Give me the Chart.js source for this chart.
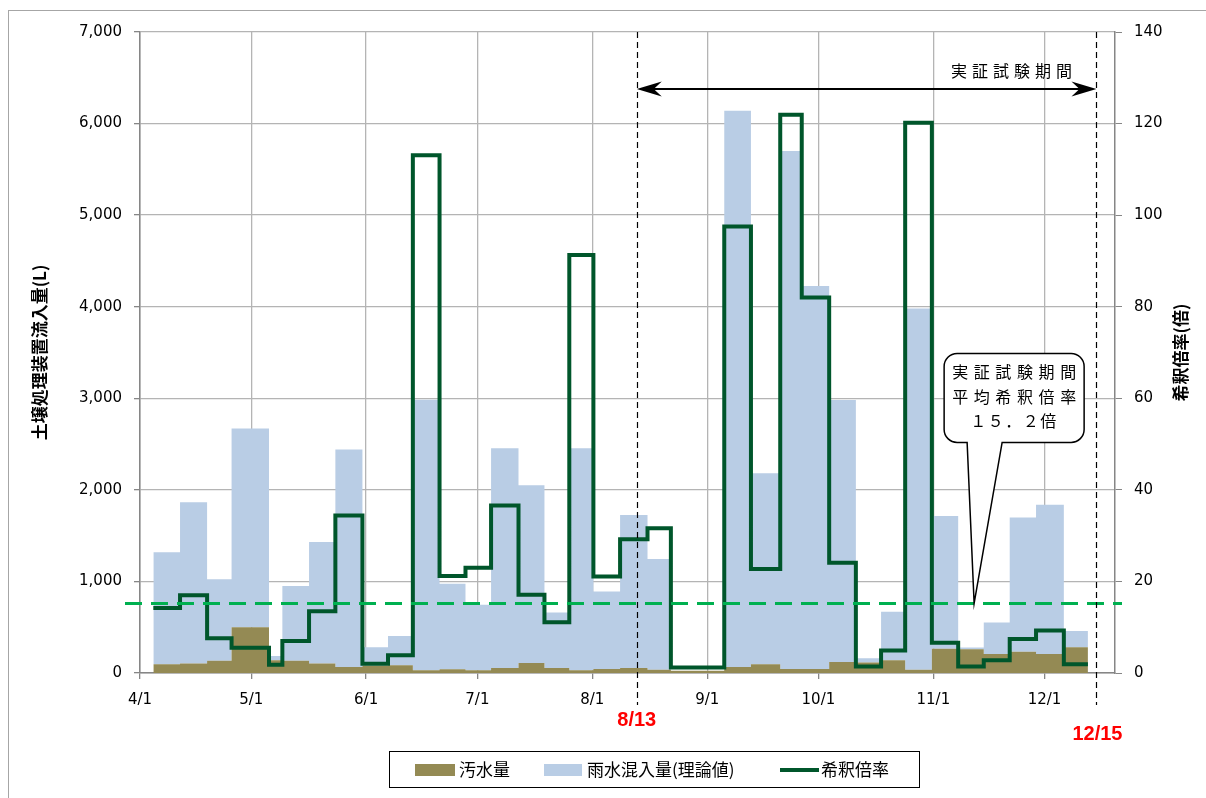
<!DOCTYPE html>
<html>
<head>
<meta charset="utf-8">
<script src="https://cdn.jsdelivr.net/npm/chart.js@4.4.0/dist/chart.umd.min.js"></script>
<style>
html, body { margin: 0; padding: 0; background: #fff; }
</style>
</head>
<body>
<canvas id="c" width="1206" height="798"></canvas>
<script>
// 期間の区切り（4/1 からの日数）
const periodEdges = [3.6, 10.8, 18.1, 24.7, 34.8, 38.4, 45.6, 52.7, 60.0, 66.9, 73.6, 80.8, 87.8, 94.7,
    102.1, 109.1, 115.8, 122.3, 129.5, 136.9, 143.2, 150.4, 157.6, 164.8, 172.7, 178.5, 185.9, 193.1,
    199.9, 206.4, 213.6, 220.7, 227.6, 234.6, 241.7, 249.2, 255.7];
// 汚水量 (L)
const sewage = [95, 105, 135, 500, 140, 135, 105, 65, 80, 85, 30, 40, 30, 55, 110, 55, 30, 45, 55, 35,
    25, 25, 65, 95, 45, 45, 120, 115, 140, 35, 265, 258, 207, 233, 207, 280];
// 雨水混入量(理論値) (L)
const rain = [1225, 1760, 890, 2170, 45, 815, 1325, 2375, 200, 320, 2955, 935, 715, 2400, 1940, 605, 2425,
    845, 1670, 1210, 0, 0, 6075, 2085, 5655, 4180, 2860, 45, 530, 3945, 1450, 20, 345, 1465, 1630, 180];
// 希釈倍率 (倍)
const ratio = [14.2, 17.0, 7.6, 5.5, 1.8, 7.0, 13.5, 34.4, 2.0, 3.9, 113.1, 21.2, 23.0, 36.6, 17.1, 11.1,
    91.3, 21.1, 29.2, 31.6, 1.2, 1.2, 97.5, 22.7, 121.9, 82.0, 24.1, 1.4, 4.9, 120.2, 6.6, 1.4, 2.8, 7.4,
    9.3, 1.9];

const monthLabels = ['4/1', '5/1', '6/1', '7/1', '8/1', '9/1', '10/1', '11/1', '12/1'];
const axisEnd = '12/20';
const testStart = '8/13';
const testEnd = '12/15';
const calloutDate = '11/12';
const avgRatio = 15.2;
const calloutLines = ['実証試験期間', '平均希釈倍率', '１５．２倍'];

// 'M/D' → 4/1 からの日数
function dayOf(md) {
    const [m, d] = md.split('/').map(Number);
    return (new Date(2015, m - 1, d) - new Date(2015, 3, 1)) / 864e5;
}
const monthDays = monthLabels.map(dayOf);

// 階段状データ（各期間の開始点＋最終点）
function stepData(vals) {
    const pts = vals.map((v, i) => ({ x: periodEdges[i], y: v }));
    pts.push({ x: periodEdges[vals.length], y: vals[vals.length - 1] });
    return pts;
}

const JP = '"Noto Sans CJK JP", sans-serif';

function spacedText(ctx, str, cx, cy, step) {
    const chars = [...str];
    let x = cx - step * (chars.length - 1) / 2;
    chars.forEach(ch => { ctx.fillText(ch, x, cy); x += step; });
}

const decor = {
    id: 'decor',
    afterDatasetsDraw(chart) {
        const { ctx, chartArea: a, scales: { x, y2 } } = chart;
        ctx.save();
        // 平均希釈倍率の破線
        const yAvg = y2.getPixelForValue(avgRatio);
        ctx.strokeStyle = '#00b050';
        ctx.lineWidth = 3;
        ctx.setLineDash([17, 9]);
        ctx.beginPath();
        ctx.moveTo(a.left - 15, yAvg);
        ctx.lineTo(a.right + 7, yAvg);
        ctx.stroke();

        // 実証試験期間の縦線
        const xs = x.getPixelForValue(dayOf(testStart));
        const xe = x.getPixelForValue(dayOf(testEnd));
        ctx.strokeStyle = '#000';
        ctx.lineWidth = 1.2;
        ctx.setLineDash([6, 4]);
        [xs, xe].forEach(px => {
            ctx.beginPath();
            ctx.moveTo(Math.round(px) + 0.5, a.top);
            ctx.lineTo(Math.round(px) + 0.5, a.bottom + 32);
            ctx.stroke();
        });
        ctx.setLineDash([]);

        // 両矢印
        const ya = a.top + 57;
        ctx.lineWidth = 2;
        ctx.beginPath();
        ctx.moveTo(xs + 4, ya);
        ctx.lineTo(xe - 4, ya);
        ctx.stroke();
        ctx.fillStyle = '#000';
        [[xs, 1], [xe, -1]].forEach(([px, d]) => {
            ctx.beginPath();
            ctx.moveTo(px, ya);
            ctx.lineTo(px + d * 25, ya - 7.5);
            ctx.lineTo(px + d * 17, ya);
            ctx.lineTo(px + d * 25, ya + 7.5);
            ctx.closePath();
            ctx.fill();
        });
        ctx.font = '16px ' + JP;
        ctx.textAlign = 'center';
        ctx.textBaseline = 'middle';
        spacedText(ctx, calloutLines[0], xe - 85, ya - 18, 21);

        // 吹き出し
        const tx = x.getPixelForValue(dayOf(calloutDate));
        const bl = tx - 30, bt = yAvg - 250, bw = 140, bh = 89, r = 13;
        ctx.lineWidth = 1.5;
        ctx.fillStyle = '#fff';
        ctx.beginPath();
        ctx.moveTo(bl + r, bt);
        ctx.arcTo(bl + bw, bt, bl + bw, bt + bh, r);
        ctx.arcTo(bl + bw, bt + bh, bl, bt + bh, r);
        ctx.lineTo(tx + 28, bt + bh);
        ctx.lineTo(tx, yAvg);
        ctx.lineTo(tx - 7, bt + bh);
        ctx.arcTo(bl, bt + bh, bl, bt, r);
        ctx.arcTo(bl, bt, bl + bw, bt, r);
        ctx.closePath();
        ctx.fill();
        ctx.stroke();
        ctx.fillStyle = '#000';
        const cx = bl + bw / 2;
        spacedText(ctx, calloutLines[0], cx, bt + 19, 21.6);
        spacedText(ctx, calloutLines[1], cx, bt + 44, 21.6);
        spacedText(ctx, calloutLines[2], cx - 1, bt + 68, 17.5);
        ctx.restore();
    },
    afterDraw(chart) {
        const { ctx, chartArea: a, scales: { x } } = chart;
        ctx.save();
        // 外枠
        ctx.strokeStyle = '#a6a6a6';
        ctx.lineWidth = 1;
        ctx.strokeRect(8.5, 10.5, 1400, 1000);

        // 軸タイトル
        ctx.fillStyle = '#000';
        ctx.font = 'bold 17px ' + JP;
        ctx.textAlign = 'center';
        ctx.textBaseline = 'middle';
        [[40, '土壌処理装置流入量(L)'], [1181, '希釈倍率(倍)']].forEach(([px, t]) => {
            ctx.save();
            ctx.translate(px, (a.top + a.bottom) / 2);
            ctx.rotate(-Math.PI / 2);
            ctx.fillText(t, 0, 0);
            ctx.restore();
        });

        // 赤い日付
        ctx.fillStyle = '#ff0000';
        ctx.font = 'bold 20px "Liberation Sans Narrow", "Liberation Sans", sans-serif';
        ctx.fillText(testStart, x.getPixelForValue(dayOf(testStart)), a.bottom + 47);
        ctx.fillText(testEnd, x.getPixelForValue(dayOf(testEnd)) + 1, a.bottom + 61);

        // 凡例
        const ly = 770;
        ctx.strokeStyle = '#000';
        ctx.lineWidth = 1;
        ctx.fillStyle = '#fff';
        ctx.fillRect(389.5, 751.5, 530, 36);
        ctx.strokeRect(389.5, 751.5, 530, 36);
        ctx.font = '17px ' + JP;
        ctx.textAlign = 'left';
        ctx.fillStyle = '#948a54';
        ctx.fillRect(415, ly - 6, 40, 12);
        ctx.fillStyle = '#b9cde5';
        ctx.fillRect(544, ly - 6, 38, 12);
        ctx.strokeStyle = '#00562b';
        ctx.lineWidth = 4;
        ctx.beginPath();
        ctx.moveTo(780, ly);
        ctx.lineTo(819, ly);
        ctx.stroke();
        ctx.fillStyle = '#000';
        ctx.fillText('汚水量', 459, ly);
        ctx.fillText('雨水混入量(理論値)', 587, ly);
        ctx.fillText('希釈倍率', 821, ly);
        ctx.restore();
    }
};

Chart.defaults.font.family = '"DejaVu Sans", sans-serif';
Chart.defaults.font.size = 15;
Chart.defaults.color = '#000';

new Chart(document.getElementById('c'), {
    type: 'line',
    data: {
        datasets: [
            {
                label: '汚水量',
                data: stepData(sewage),
                yAxisID: 'y',
                stepped: 'before',
                borderWidth: 0,
                borderColor: 'rgba(0,0,0,0)',
                backgroundColor: '#948a54',
                pointRadius: 0,
                fill: 'origin',
                order: 1
            },
            {
                label: '雨水混入量(理論値)',
                data: stepData(rain),
                yAxisID: 'y',
                stepped: 'before',
                borderWidth: 0,
                borderColor: 'rgba(0,0,0,0)',
                backgroundColor: '#b9cde5',
                pointRadius: 0,
                fill: '-1',
                order: 2
            },
            {
                label: '希釈倍率',
                data: stepData(ratio),
                yAxisID: 'y2',
                stepped: 'before',
                borderColor: '#00562b',
                borderWidth: 4,
                borderJoinStyle: 'miter',
                pointRadius: 0,
                fill: false,
                order: 0
            }
        ]
    },
    options: {
        responsive: false,
        animation: false,
        devicePixelRatio: 1,
        layout: { padding: { top: 32, left: 0, right: 0, bottom: 0 } },
        plugins: { legend: { display: false }, tooltip: { enabled: false } },
        scales: {
            x: {
                type: 'linear',
                min: 0,
                max: dayOf(axisEnd),
                afterBuildTicks: s => { s.ticks = monthDays.map(v => ({ value: v })); },
                afterFit: s => { s.height = 125; },
                grid: { color: '#b4b4b4', lineWidth: 1.3, tickLength: 6, tickColor: '#868686' },
                border: { color: '#868686', width: 1.5 },
                ticks: {
                    padding: 12,
                    maxRotation: 0,
                    autoSkip: false,
                    callback: (v, i) => monthLabels[i]
                }
            },
            y: {
                position: 'left',
                stacked: true,
                min: 0,
                max: 7000,
                afterFit: s => { s.width = 140; },
                grid: { color: '#b4b4b4', lineWidth: 1.3, tickLength: 6, tickColor: '#868686' },
                border: { color: '#868686', width: 1.5 },
                ticks: { stepSize: 1000, padding: 12, callback: v => v.toLocaleString('en-US') }
            },
            y2: {
                position: 'right',
                min: 0,
                max: 140,
                afterFit: s => { s.width = 91; },
                grid: { drawOnChartArea: false, tickLength: 7, tickColor: '#868686' },
                border: { color: '#868686', width: 1.5 },
                ticks: { stepSize: 20, padding: 12 }
            }
        }
    },
    plugins: [decor]
});
</script>
</body>
</html>
